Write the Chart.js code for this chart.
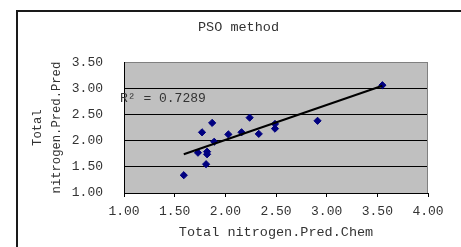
<!DOCTYPE html>
<html lang="en">
<head>
    <meta charset="UTF-8">
    <title>PSO method</title>
    <script src="https://cdn.jsdelivr.net/npm/chart.js"></script>
    <style>
        html, body { margin: 0; padding: 0; background: #fff; }
        #wrap { width: 461px; height: 247px; }
    </style>
</head>
<body>
    <div id="wrap"><canvas id="graphic" width="461" height="247"></canvas></div>

    <script>
        // measured values (Chem) vs predicted values (Pred)
        const chemX = [1.59, 1.73, 1.77, 1.81, 1.82, 1.82, 1.87, 1.89, 2.03, 2.16, 2.24, 2.33, 2.49, 2.49, 2.91, 3.55];
        const predY = [1.34, 1.77, 2.16, 1.55, 1.79, 1.74, 2.34, 1.98, 2.12, 2.16, 2.44, 2.13, 2.32, 2.23, 2.38, 3.06];

        // linear trendline end points
        const trendX = [1.59, 3.55];
        const trendY = [1.74, 3.05];
        const r2Label = 'R² = 0.7289';

        const xTicks = [1.00, 1.50, 2.00, 2.50, 3.00, 3.50, 4.00];
        const yTicks = [1.00, 1.50, 2.00, 2.50, 3.00, 3.50];

        const FONT = 'Liberation Mono';
        const TXT = '#333';

        Chart.defaults.font.family = FONT;
        Chart.defaults.color = TXT;

        const framePlugin = {
            id: 'frame',
            beforeDraw(chart) {
                const { ctx, chartArea: a } = chart;
                ctx.save();
                ctx.fillStyle = '#fff';
                ctx.fillRect(0, 0, chart.width, chart.height);
                ctx.fillStyle = '#c0c0c0';
                ctx.fillRect(a.left, a.top, a.right - a.left, a.bottom - a.top);
                // outer chart frame (runs off the picture on the right and bottom)
                ctx.strokeStyle = '#1a1a1a';
                ctx.lineWidth = 2;
                ctx.beginPath();
                ctx.moveTo(17, chart.height);
                ctx.lineTo(17, 11);
                ctx.lineTo(chart.width, 11);
                ctx.stroke();
                ctx.restore();
            },
            afterDraw(chart) {
                const { ctx, chartArea: a, scales } = chart;
                ctx.save();
                ctx.strokeStyle = '#808080';
                ctx.lineWidth = 1;
                ctx.beginPath();
                ctx.moveTo(Math.round(a.right) - 0.5, a.top);
                ctx.lineTo(Math.round(a.right) - 0.5, a.bottom);
                ctx.stroke();
                ctx.fillStyle = TXT;
                ctx.font = '13px "' + FONT + '"';
                ctx.textBaseline = 'middle';
                ctx.textAlign = 'left';
                ctx.fillText(r2Label, a.left - 4, scales.y.getPixelForValue(2.81));
                ctx.restore();
            }
        };

        const ctx = document.getElementById('graphic').getContext('2d');
        new Chart(ctx, {
            type: 'scatter',
            data: {
                datasets: [
                    {
                        data: chemX.map((x, i) => ({ x: x, y: predY[i] })),
                        backgroundColor: '#000080',
                        borderColor: '#000080',
                        borderWidth: 1,
                        pointStyle: 'rectRot',
                        pointRadius: 3.6,
                        order: 2,
                    },
                    {
                        type: 'line',
                        data: trendX.map((x, i) => ({ x: x, y: trendY[i] })),
                        borderColor: '#000',
                        borderWidth: 2,
                        pointRadius: 0,
                        fill: false,
                        order: 1,
                    },
                ],
            },
            options: {
                responsive: false,
                animation: false,
                events: [],
                layout: { padding: { left: 16, top: 10, right: 0, bottom: 0 } },
                plugins: {
                    legend: { display: false },
                    tooltip: { enabled: false },
                    title: {
                        display: true,
                        text: 'PSO method',
                        color: TXT,
                        font: { size: 13.5, weight: 'normal', lineHeight: 1.2 },
                        padding: { top: 9, bottom: 27 },
                    },
                },
                scales: {
                    x: {
                        type: 'linear',
                        min: 1,
                        max: 4,
                        afterBuildTicks: (s) => { s.ticks = xTicks.map(v => ({ value: v })); },
                        afterFit: (s) => { s.height = 54; },
                        ticks: {
                            padding: 7,
                            font: { size: 13 },
                            maxRotation: 0,
                            callback: (v) => Number(v).toFixed(2),
                        },
                        grid: { drawOnChartArea: false, drawTicks: true, tickLength: 4, color: '#000' },
                        border: { color: '#000', width: 1 },
                        title: {
                            display: true,
                            text: 'Total nitrogen.Pred.Chem',
                            font: { size: 13.5, lineHeight: 1.2 },
                            padding: { top: 0, bottom: 6 },
                        },
                    },
                    y: {
                        type: 'linear',
                        min: 1,
                        max: 3.5,
                        afterBuildTicks: (s) => { s.ticks = yTicks.map(v => ({ value: v })); },
                        afterFit: (s) => { s.width = 108; },
                        ticks: {
                            padding: 21,
                            font: { size: 13 },
                            callback: (v) => Number(v).toFixed(2),
                        },
                        grid: {
                            drawTicks: false,
                            color: (c) => (c.tick && c.tick.value === 3.5 ? '#808080' : '#000'),
                        },
                        border: { color: '#000', width: 1 },
                        title: {
                            display: true,
                            text: ['Total', 'nitrogen.Pred.Pred'],
                            font: { size: 12.2, lineHeight: '19px' },
                            padding: { top: 12.5, bottom: 0 },
                        },
                    },
                    yR: {
                        type: 'linear',
                        position: 'right',
                        min: 1,
                        max: 3.5,
                        afterFit: (s) => { s.width = 33; },
                        ticks: { display: false },
                        grid: { display: false },
                        border: { display: false },
                    },
                },
            },
            plugins: [framePlugin],
        });
    </script>
</body>
</html>
